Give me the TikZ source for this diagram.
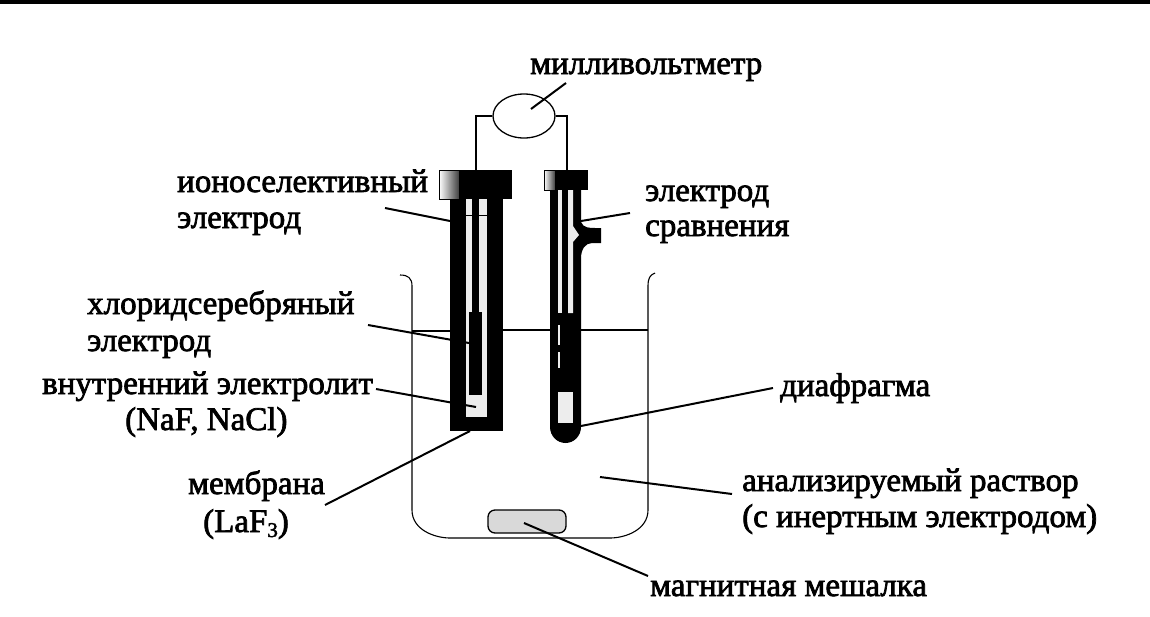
\documentclass[tikz,border=0pt]{standalone}
\usepackage{fontspec}
\usetikzlibrary{shapes.geometric}
\setmainfont[FakeBold=2.2]{Liberation Serif}
\begin{document}
\begin{tikzpicture}[x=1pt,y=-1pt,
  lbl/.style={anchor=base west,inner sep=0pt,font=\fontsize{33}{33}\selectfont},
  leader/.style={draw=black,line width=2pt},
  thin wire/.style={draw=black,line width=1.1pt},
  body/.style={fill=black,draw=none},
  inner/.style={fill=black!7,draw=none},
  capshade/.style={left color=white,right color=black!75,draw=black,line width=.8pt}]
\useasboundingbox (0,0) rectangle (1150,616);
\fill[black] (0,0) rectangle (1150,4);
% beaker
\draw[thin wire] (400,275) .. controls (408,275) and (412,278) .. (412,286)
  -- (412,510) .. controls (412,530) and (435,538) .. (450,538)
  -- (610,538) .. controls (625,538) and (648,530) .. (648,510)
  -- (648,286) .. controls (648,278) and (650,275) .. (655,273);
\draw[thin wire] (412,331) -- (450,331) (503,330) -- (550,330) (581,330) -- (648,330);
% wires and meter
\node[draw=black,line width=1.3pt,ellipse,minimum width=62pt,minimum height=44pt,inner sep=0pt] (meter) at (524,116) {};
\coordinate (lw) at (476,171);
\coordinate (rw) at (567,171);
\coordinate (pa) at (531,109);
\coordinate (pb) at (566,83);
\draw[line width=1.6pt] (meter.west) -- (476,116) -- (lw);
\draw[thin wire] (meter.east) -- (567,116) -- (rw);
\draw[leader] (pa) -- (pb);
% left electrode
\path[body] (450,195) rectangle (503,431);
\path[inner] (466,199) rectangle (487,417);
\path[body] (472,199) rectangle (479,312);
\path[body] (469,312) rectangle (482,395);
\draw[black,line width=1pt] (466,215) -- (487,215);
\path[fill=black] (459,170) rectangle (512,199);
\path[capshade] (439,170) rectangle (459,199);
% right electrode
\path[body] (550,188) -- (581,188) -- (581,222) .. controls (583,228) and (590,228) .. (595,228)
  -- (601,228) -- (601,243) -- (592,243) .. controls (585,243) and (581,250) .. (581,258)
  -- (581,427) arc[start angle=0,end angle=180,x radius=15.5,y radius=16] -- cycle;
\path[inner] (558,190) rectangle (562,313);
\path[inner] (568,190) -- (573,190) -- (573,226) -- (579,235) -- (573,242) -- (573,313) -- (568,313) -- cycle;
\path[inner] (558,392) rectangle (573,423);
\path[inner] (558,325) rectangle (560,345);
\path[inner] (558,352) rectangle (560,368);
\path[fill=black] (555,170) rectangle (588,190);
\path[capshade] (544,170) rectangle (555,190);
% stir bar
\node[draw=black,line width=1.3pt,fill=black!15,rounded corners=7pt,minimum width=78pt,minimum height=23pt,inner sep=0pt] (bar) at (527,521.5) {};
% leaders
\coordinate (a1) at (385,208); \coordinate (b1) at (450,221);
\coordinate (a2) at (630,213); \coordinate (b2) at (581,221);
\coordinate (a3) at (368,325); \coordinate (b3) at (469,343);
\coordinate (a4) at (376,389); \coordinate (b4) at (476,407);
\coordinate (a5) at (325,505); \coordinate (b5) at (470,431);
\coordinate (a6) at (773,388); \coordinate (b6) at (581,426);
\coordinate (a7) at (732,494); \coordinate (b7) at (600,477);
\coordinate (a8) at (648,576); \coordinate (b8) at (524,523);
\foreach \p/\q in {a1/b1,a2/b2,a3/b3,a4/b4,a5/b5,a6/b6,a7/b7,a8/b8} \draw[leader] (\p) -- (\q);
% labels
\node[lbl] (t1) at (530,74) {милливольтметр};
\node[lbl] (t2) at (177,192) {ионоселективный};
\node[lbl] (t3) at (177,228) {электрод};
\node[lbl] (t4) at (645,201) {электрод};
\node[lbl] (t5) at (645,236) {сравнения};
\node[lbl] (t6) at (87,314) {хлоридсеребряный};
\node[lbl] (t7) at (87,351) {электрод};
\node[lbl] (t8) at (42,394) {внутренний электролит};
\node[lbl] (t9) at (125,430) {(NaF, NaCl)};
\node[lbl] (t10) at (780,396) {диафрагма};
\node[lbl] (t11) at (188,494) {мембрана};
\node[lbl] (t12) at (203,532) {(LaF\raisebox{-5pt}{\fontsize{21}{21}\selectfont 3})};
\node[lbl] (t13) at (742,491) {анализируемый раствор};
\node[lbl] (t14) at (742,527) {(с инертным электродом)};
\node[lbl] (t15) at (650,596) {магнитная мешалка};
\end{tikzpicture}
\end{document}
